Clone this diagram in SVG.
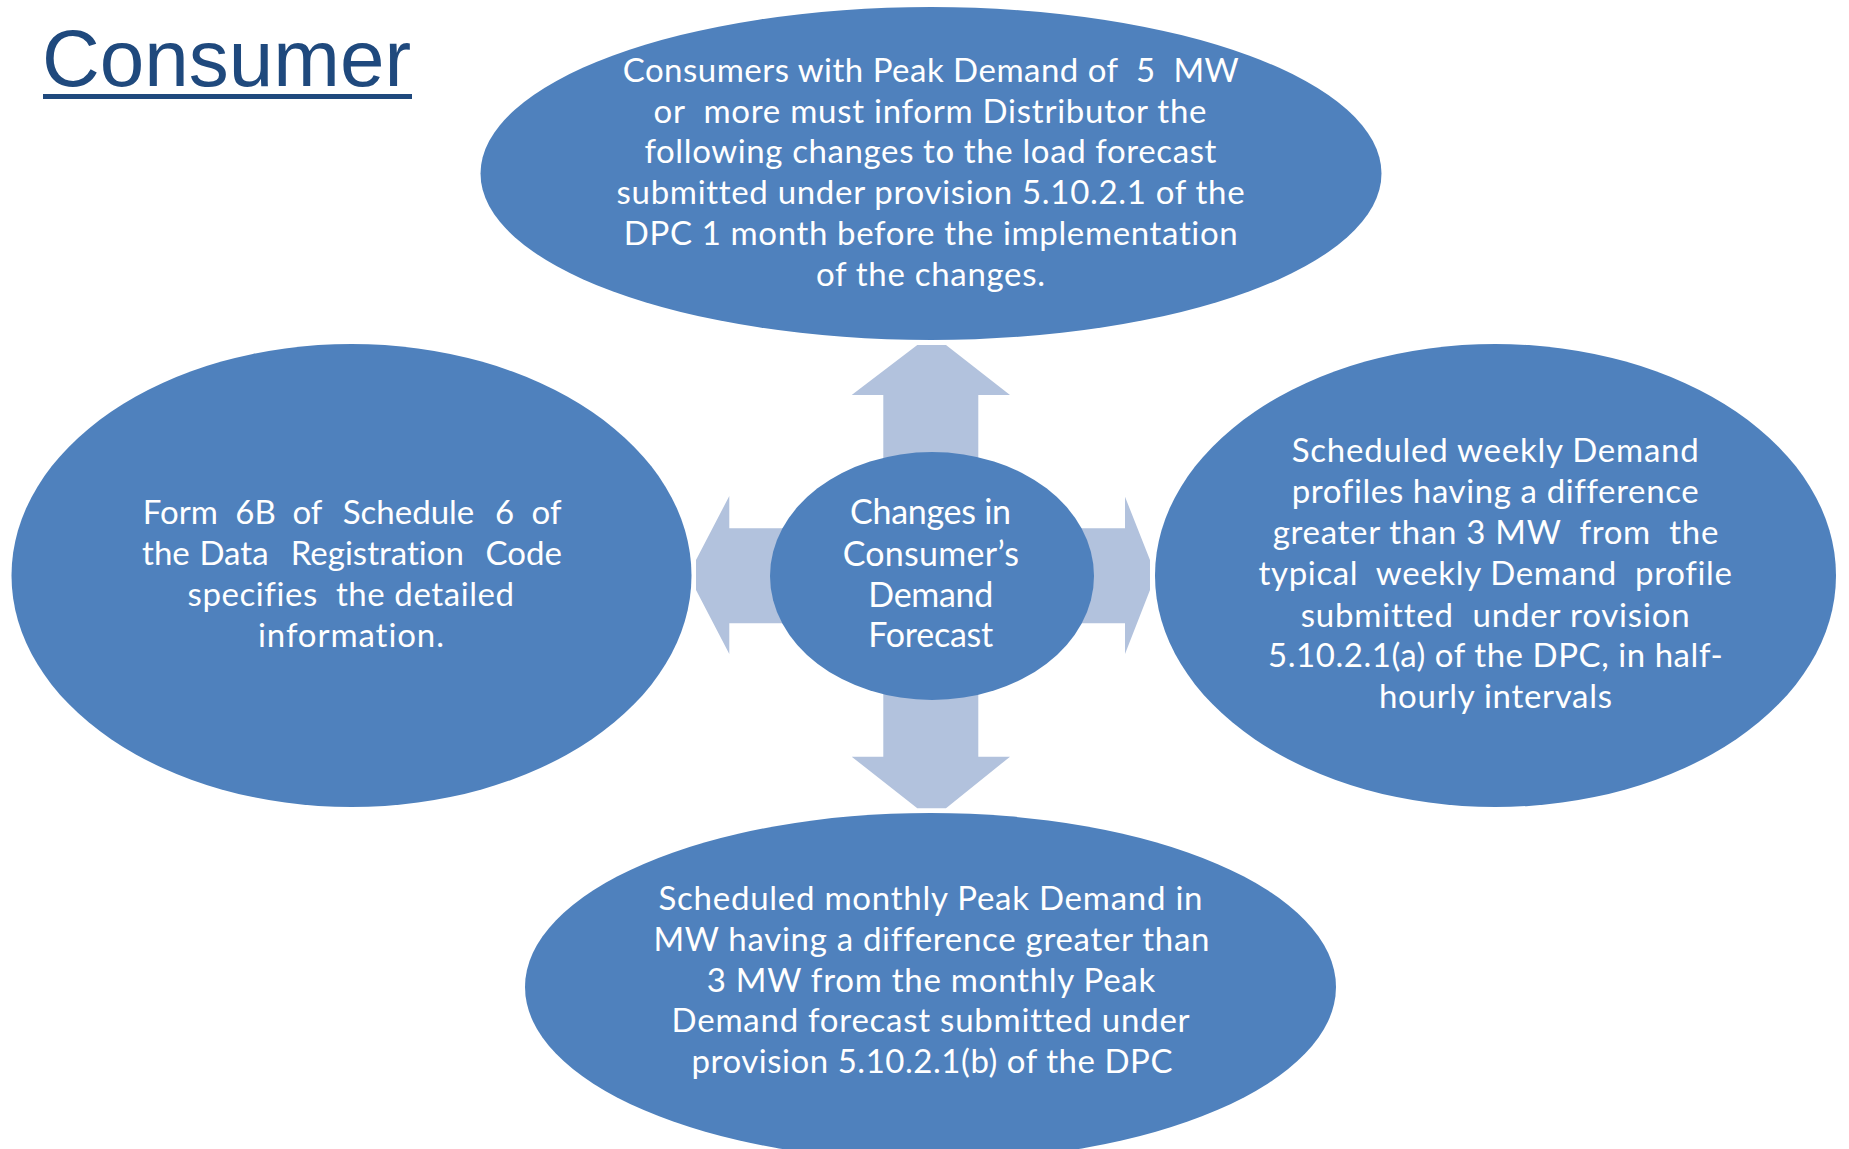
<svg xmlns="http://www.w3.org/2000/svg" width="1849" height="1149" viewBox="0 0 1849 1149">
  <style>
    .bubble { fill: #4F81BD; }
    .arrow { fill: #B2C2DD; }
    .t { font-family: Lato, "Open Sans", "Liberation Sans", sans-serif; font-size: 33px; fill: #FFFFFF; text-anchor: middle; font-variant-ligatures: none; }
    .tc { font-size: 34px; }
    .title { font-family: "Liberation Sans", Arial, sans-serif; font-size: 80px; fill: #1F497D; }
  </style>
  <rect x="0" y="0" width="1849" height="1149" fill="#FFFFFF"/>

  <g id="title">
    <text class="title" x="42" y="86">Consumer</text>
    <rect x="43" y="94" width="369" height="5" fill="#1F497D"/>
  </g>

  <g id="connectors">
    <polygon class="arrow" points="883.3,490 883.3,395 851.7,395 917.3,345 946,345 1010,395 978.3,395 978.3,490"/>
    <polygon class="arrow" points="883.3,660 883.3,756.7 851.7,756.7 917.3,808.3 946,808.3 1010,756.7 978.3,756.7 978.3,660"/>
    <polygon class="arrow" points="800,528.3 729.3,528.3 729.3,496 696,560 696,590 729.3,654 729.3,623.3 800,623.3"/>
    <polygon class="arrow" points="1060,528.3 1125,528.3 1125,496.7 1150,560 1150,590 1125,654 1125,623.3 1060,623.3"/>
  </g>

  <g id="node-top">
    <ellipse class="bubble" cx="931" cy="173.5" rx="450.5" ry="166.5"/>
    <text class="t" xml:space="preserve" x="930.7" y="81.7" textLength="616">Consumers with Peak Demand of  5  MW</text>
    <text class="t" xml:space="preserve" x="930" y="122.7" textLength="553">or  more must inform Distributor the</text>
    <text class="t" xml:space="preserve" x="930.4" y="163.3" textLength="572">following changes to the load forecast</text>
    <text class="t" xml:space="preserve" x="930.6" y="204" textLength="628">submitted under provision 5.10.2.1 of the</text>
    <text class="t" xml:space="preserve" x="930.7" y="245" textLength="614">DPC 1 month before the implementation</text>
    <text class="t" xml:space="preserve" x="930.5" y="285.7" textLength="229">of the changes.</text>
  </g>

  <g id="node-left">
    <ellipse class="bubble" cx="351.5" cy="575.5" rx="340" ry="231.5"/>
    <text class="t" y="524.3"><tspan x="180.4">Form</tspan><tspan x="255.6">6B</tspan><tspan x="307.4">of</tspan><tspan x="408.5">Schedule</tspan><tspan x="504.5">6</tspan><tspan x="546.5">of</tspan></text>
    <text class="t" y="565.3"><tspan x="165.9">the</tspan><tspan x="234">Data</tspan><tspan x="377.3">Registration</tspan><tspan x="523.7">Code</tspan></text>
    <text class="t" xml:space="preserve" x="350.8" y="606" textLength="326.5">specifies  the detailed</text>
    <text class="t" xml:space="preserve" x="351" y="647" textLength="186">information.</text>
  </g>

  <g id="node-right">
    <ellipse class="bubble" cx="1495.5" cy="575.5" rx="340.5" ry="231.5"/>
    <text class="t" xml:space="preserve" x="1495.2" y="461.7" textLength="407">Scheduled weekly Demand</text>
    <text class="t" xml:space="preserve" x="1495.2" y="502.7" textLength="407">profiles having a difference</text>
    <text class="t" xml:space="preserve" x="1495.5" y="544" textLength="445.7">greater than 3 MW  from  the</text>
    <text class="t" xml:space="preserve" x="1495.2" y="585" textLength="473.4">typical  weekly Demand  profile</text>
    <text class="t" xml:space="preserve" x="1495.2" y="626.7" textLength="389">submitted  under rovision</text>
    <text class="t" xml:space="preserve" x="1495.4" y="667" textLength="454.8">5.10.2.1(a) of the DPC, in half-</text>
    <text class="t" xml:space="preserve" x="1495.5" y="708" textLength="233">hourly intervals</text>
  </g>

  <g id="node-bottom">
    <ellipse class="bubble" cx="930.5" cy="987" rx="405.5" ry="174"/>
    <text class="t" xml:space="preserve" x="930.5" y="910" textLength="544">Scheduled monthly Peak Demand in</text>
    <text class="t" xml:space="preserve" x="931.4" y="950.7" textLength="556">MW having a difference greater than</text>
    <text class="t" xml:space="preserve" x="931" y="991.7" textLength="448.5">3 MW from the monthly Peak</text>
    <text class="t" xml:space="preserve" x="930.6" y="1032.3" textLength="518">Demand forecast submitted under</text>
    <text class="t" xml:space="preserve" x="932" y="1073.3" textLength="481">provision 5.10.2.1(b) of the DPC</text>
  </g>

  <g id="node-center">
    <ellipse class="bubble" cx="932" cy="576" rx="162" ry="124"/>
    <text class="t tc" x="930.5" y="524" textLength="161">Changes in</text>
    <text class="t tc" x="930.8" y="566" textLength="176.3">Consumer’s</text>
    <text class="t tc" x="930.8" y="607" textLength="125">Demand</text>
    <text class="t tc" x="930.8" y="647" textLength="125">Forecast</text>
  </g>
</svg>
